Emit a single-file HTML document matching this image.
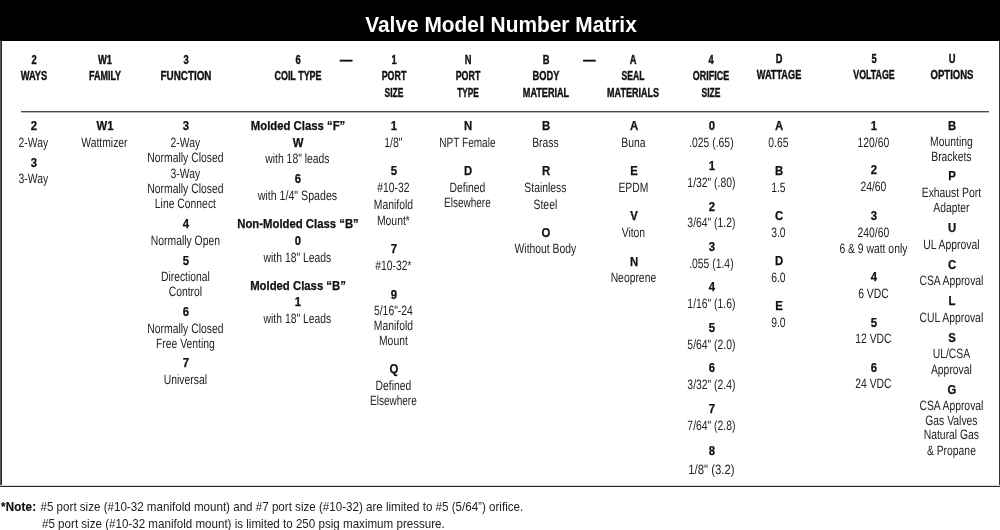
<!DOCTYPE html>
<html lang="en">
<head>
<meta charset="utf-8">
<title>Valve Model Number Matrix</title>
<style>
html,body{margin:0;padding:0;background:#fff;}
body{width:1000px;height:530px;position:relative;overflow:hidden;
 font-family:"Liberation Sans",sans-serif;color:#1a1a1a;}
#frame{position:absolute;left:0;top:0;width:1000px;height:487px;}
#frame i{position:absolute;display:block;}
#bl0{left:0;top:0;width:1px;height:487px;background:#5a5a5a;}
#bl1{left:1px;top:0;width:1px;height:487px;background:#262626;}
#br{left:999px;top:0;width:1px;height:487px;background:#333;}
#bb{left:0;top:486px;width:1000px;height:1px;background:#2a2a2a;}
#bb2{left:0;top:485px;width:1000px;height:1px;background:#d8d8d8;}
#titlebar{position:absolute;left:0;top:0;width:1000px;height:41px;background:#000;}
#title{position:absolute;left:501px;top:5px;white-space:nowrap;color:#fff;font-weight:bold;
 font-size:22.5px;line-height:40px;transform:translateX(-50%) scaleX(0.928);}
#rule{position:absolute;left:21px;top:111px;width:968px;height:2px;
 background:linear-gradient(#4a4a4a 0,#4a4a4a 50%,#b8b8b8 50%,#b8b8b8 100%);}
.t{position:absolute;white-space:nowrap;line-height:16px;transform-origin:50% 50%;}
.r{font-size:13.5px;transform:translateX(calc(-50% - 0.6px)) rotate(0.03deg) scaleX(0.768);color:#222;}
.b{font-size:12.6px;font-weight:bold;transform:translateX(-50%) scaleX(0.9);color:#111;-webkit-text-stroke:0.25px #111;}
.h{font-size:12.2px;font-weight:bold;transform:translateX(-50%) scaleX(0.765);color:#111;-webkit-text-stroke:0.4px #111;}
.h.d{transform:translateX(-50%) scaleX(1);-webkit-text-stroke:0.6px #111;}
.n{position:absolute;white-space:nowrap;line-height:16px;font-size:13.3px;transform-origin:0 50%;transform:scaleX(0.872);color:#222;margin:0;}
.n span{margin-left:4.94px;}
.n b{color:#111;letter-spacing:0.2px;-webkit-text-stroke:0.2px #111;}
</style>
</head>
<body>
<div id="frame"><i id="bl0"></i><i id="bl1"></i><i id="br"></i><i id="bb2"></i><i id="bb"></i></div>
<div id="titlebar"><div id="title">Valve Model Number Matrix</div></div>
<div id="rule"></div>

<!-- column headings -->
<div class="t h" style="left:34px;top:52px;">2</div>
<div class="t h" style="left:34px;top:68px;transform:translateX(-50%) scaleX(0.765);">WAYS</div>
<div class="t h" style="left:105px;top:52px;">W1</div>
<div class="t h" style="left:105px;top:68px;transform:translateX(-50%) scaleX(0.737);">FAMILY</div>
<div class="t h" style="left:185.5px;top:52px;">3</div>
<div class="t h" style="left:185.5px;top:68px;transform:translateX(-50%) scaleX(0.808);">FUNCTION</div>
<div class="t h" style="left:297.5px;top:52px;">6</div>
<div class="t h" style="left:297.5px;top:68px;transform:translateX(-50%) scaleX(0.735);">COIL TYPE</div>
<div class="t h d" style="left:346px;top:52px;">—</div>
<div class="t h" style="left:394px;top:52px;">1</div>
<div class="t h" style="left:394px;top:68px;transform:translateX(-50%) scaleX(0.727);">PORT</div>
<div class="t h" style="left:394px;top:85px;transform:translateX(-50%) scaleX(0.696);">SIZE</div>
<div class="t h" style="left:467.5px;top:52px;">N</div>
<div class="t h" style="left:467.5px;top:68px;transform:translateX(-50%) scaleX(0.727);">PORT</div>
<div class="t h" style="left:467.5px;top:85px;transform:translateX(-50%) scaleX(0.678);">TYPE</div>
<div class="t h" style="left:546px;top:52px;">B</div>
<div class="t h" style="left:546px;top:68px;transform:translateX(-50%) scaleX(0.762);">BODY</div>
<div class="t h" style="left:546px;top:85px;transform:translateX(-50%) scaleX(0.747);">MATERIAL</div>
<div class="t h d" style="left:589.4px;top:52px;">—</div>
<div class="t h" style="left:633.4px;top:52px;">A</div>
<div class="t h" style="left:633.4px;top:68px;transform:translateX(-50%) scaleX(0.703);">SEAL</div>
<div class="t h" style="left:633.4px;top:85px;transform:translateX(-50%) scaleX(0.739);">MATERIALS</div>
<div class="t h" style="left:711px;top:52px;">4</div>
<div class="t h" style="left:711px;top:68px;transform:translateX(-50%) scaleX(0.735);">ORIFICE</div>
<div class="t h" style="left:711px;top:85px;transform:translateX(-50%) scaleX(0.696);">SIZE</div>
<div class="t h" style="left:778.75px;top:51px;">D</div>
<div class="t h" style="left:778.75px;top:67px;transform:translateX(-50%) scaleX(0.754);">WATTAGE</div>
<div class="t h" style="left:873.5px;top:51px;">5</div>
<div class="t h" style="left:873.5px;top:67px;transform:translateX(-50%) scaleX(0.728);">VOLTAGE</div>
<div class="t h" style="left:951.75px;top:51px;">U</div>
<div class="t h" style="left:951.75px;top:67px;transform:translateX(-50%) scaleX(0.781);">OPTIONS</div>
<!-- column values -->
<div class="t b" style="left:34px;top:118px;">2</div>
<div class="t r" style="left:34px;top:135px;">2-Way</div>
<div class="t b" style="left:34px;top:155px;">3</div>
<div class="t r" style="left:34px;top:171px;">3-Way</div>
<div class="t b" style="left:105px;top:118px;">W1</div>
<div class="t r" style="left:105px;top:135px;">Wattmizer</div>
<div class="t b" style="left:185.5px;top:118px;">3</div>
<div class="t r" style="left:185.5px;top:135px;">2-Way</div>
<div class="t r" style="left:185.5px;top:150px;">Normally Closed</div>
<div class="t r" style="left:185.5px;top:166px;">3-Way</div>
<div class="t r" style="left:185.5px;top:181px;">Normally Closed</div>
<div class="t r" style="left:185.5px;top:196px;">Line Connect</div>
<div class="t b" style="left:185.5px;top:216px;">4</div>
<div class="t r" style="left:185.5px;top:233px;">Normally Open</div>
<div class="t b" style="left:185.5px;top:253px;">5</div>
<div class="t r" style="left:185.5px;top:269px;">Directional</div>
<div class="t r" style="left:185.5px;top:284px;">Control</div>
<div class="t b" style="left:185.5px;top:304px;">6</div>
<div class="t r" style="left:185.5px;top:321px;">Normally Closed</div>
<div class="t r" style="left:185.5px;top:336px;">Free Venting</div>
<div class="t b" style="left:185.5px;top:355px;">7</div>
<div class="t r" style="left:185.5px;top:372px;">Universal</div>
<div class="t b" style="left:297.5px;top:118px;">Molded Class “F”</div>
<div class="t b" style="left:297.5px;top:135px;">W</div>
<div class="t r" style="left:297.5px;top:151px;">with 18" leads</div>
<div class="t b" style="left:297.5px;top:171px;">6</div>
<div class="t r" style="left:297.5px;top:188px;transform:translateX(calc(-50% - 0.6px)) rotate(0.03deg) scaleX(0.788);">with 1/4" Spades</div>
<div class="t b" style="left:297.5px;top:216px;">Non-Molded Class “B”</div>
<div class="t b" style="left:297.5px;top:233px;">0</div>
<div class="t r" style="left:297.5px;top:250px;">with 18" Leads</div>
<div class="t b" style="left:297.5px;top:278px;">Molded Class “B”</div>
<div class="t b" style="left:297.5px;top:294px;">1</div>
<div class="t r" style="left:297.5px;top:311px;">with 18" Leads</div>
<div class="t b" style="left:394px;top:118px;">1</div>
<div class="t r" style="left:394px;top:135px;">1/8"</div>
<div class="t b" style="left:394px;top:163px;">5</div>
<div class="t r" style="left:394px;top:180px;">#10-32</div>
<div class="t r" style="left:394px;top:197px;">Manifold</div>
<div class="t r" style="left:394px;top:213px;">Mount*</div>
<div class="t b" style="left:394px;top:241px;">7</div>
<div class="t r" style="left:394px;top:258px;">#10-32*</div>
<div class="t b" style="left:394px;top:287px;">9</div>
<div class="t r" style="left:394px;top:303px;">5/16"-24</div>
<div class="t r" style="left:394px;top:318px;">Manifold</div>
<div class="t r" style="left:394px;top:333px;">Mount</div>
<div class="t b" style="left:394px;top:361px;">Q</div>
<div class="t r" style="left:394px;top:378px;">Defined</div>
<div class="t r" style="left:394px;top:393px;transform:translateX(calc(-50% - 0.6px)) rotate(0.03deg) scaleX(0.741);">Elsewhere</div>
<div class="t b" style="left:467.5px;top:118px;">N</div>
<div class="t r" style="left:467.5px;top:135px;transform:translateX(calc(-50% - 0.6px)) rotate(0.03deg) scaleX(0.745);">NPT Female</div>
<div class="t b" style="left:467.5px;top:163px;">D</div>
<div class="t r" style="left:467.5px;top:180px;">Defined</div>
<div class="t r" style="left:467.5px;top:195px;transform:translateX(calc(-50% - 0.6px)) rotate(0.03deg) scaleX(0.741);">Elsewhere</div>
<div class="t b" style="left:546px;top:118px;">B</div>
<div class="t r" style="left:546px;top:135px;">Brass</div>
<div class="t b" style="left:546px;top:163px;">R</div>
<div class="t r" style="left:546px;top:180px;">Stainless</div>
<div class="t r" style="left:546px;top:197px;">Steel</div>
<div class="t b" style="left:546px;top:225px;">O</div>
<div class="t r" style="left:546px;top:241px;">Without Body</div>
<div class="t b" style="left:633.5px;top:118px;">A</div>
<div class="t r" style="left:633.5px;top:135px;">Buna</div>
<div class="t b" style="left:633.5px;top:163px;">E</div>
<div class="t r" style="left:633.5px;top:180px;">EPDM</div>
<div class="t b" style="left:633.5px;top:208px;">V</div>
<div class="t r" style="left:633.5px;top:225px;">Viton</div>
<div class="t b" style="left:633.5px;top:254px;">N</div>
<div class="t r" style="left:633.5px;top:270px;">Neoprene</div>
<div class="t b" style="left:711.5px;top:118px;">0</div>
<div class="t r" style="left:711.5px;top:135px;">.025 (.65)</div>
<div class="t b" style="left:711.5px;top:158px;">1</div>
<div class="t r" style="left:711.5px;top:175px;">1/32" (.80)</div>
<div class="t b" style="left:711.5px;top:199px;">2</div>
<div class="t r" style="left:711.5px;top:215px;">3/64" (1.2)</div>
<div class="t b" style="left:711.5px;top:239px;">3</div>
<div class="t r" style="left:711.5px;top:256px;">.055 (1.4)</div>
<div class="t b" style="left:711.5px;top:279px;">4</div>
<div class="t r" style="left:711.5px;top:296px;">1/16" (1.6)</div>
<div class="t b" style="left:711.5px;top:320px;">5</div>
<div class="t r" style="left:711.5px;top:337px;">5/64" (2.0)</div>
<div class="t b" style="left:711.5px;top:360px;">6</div>
<div class="t r" style="left:711.5px;top:377px;">3/32" (2.4)</div>
<div class="t b" style="left:711.5px;top:401px;">7</div>
<div class="t r" style="left:711.5px;top:418px;">7/64" (2.8)</div>
<div class="t b" style="left:711.5px;top:443px;">8</div>
<div class="t r" style="left:711.5px;top:462px;transform:translateX(calc(-50% - 0.6px)) rotate(0.03deg) scaleX(0.845);">1/8" (3.2)</div>
<div class="t b" style="left:778.5px;top:118px;">A</div>
<div class="t r" style="left:778.5px;top:135px;">0.65</div>
<div class="t b" style="left:778.5px;top:163px;">B</div>
<div class="t r" style="left:778.5px;top:180px;">1.5</div>
<div class="t b" style="left:778.5px;top:208px;">C</div>
<div class="t r" style="left:778.5px;top:225px;">3.0</div>
<div class="t b" style="left:778.5px;top:253px;">D</div>
<div class="t r" style="left:778.5px;top:270px;">6.0</div>
<div class="t b" style="left:778.5px;top:298px;">E</div>
<div class="t r" style="left:778.5px;top:315px;">9.0</div>
<div class="t b" style="left:873.5px;top:118px;">1</div>
<div class="t r" style="left:873.5px;top:135px;">120/60</div>
<div class="t b" style="left:873.5px;top:162px;">2</div>
<div class="t r" style="left:873.5px;top:179px;">24/60</div>
<div class="t b" style="left:873.5px;top:208px;">3</div>
<div class="t r" style="left:873.5px;top:225px;">240/60</div>
<div class="t r" style="left:873.5px;top:241px;">6 &amp; 9 watt only</div>
<div class="t b" style="left:873.5px;top:269px;">4</div>
<div class="t r" style="left:873.5px;top:286px;">6 VDC</div>
<div class="t b" style="left:873.5px;top:315px;">5</div>
<div class="t r" style="left:873.5px;top:331px;">12 VDC</div>
<div class="t b" style="left:873.5px;top:360px;">6</div>
<div class="t r" style="left:873.5px;top:376px;">24 VDC</div>
<div class="t b" style="left:951.5px;top:118px;">B</div>
<div class="t r" style="left:951.5px;top:134px;">Mounting</div>
<div class="t r" style="left:951.5px;top:149px;">Brackets</div>
<div class="t b" style="left:951.5px;top:168px;">P</div>
<div class="t r" style="left:951.5px;top:185px;">Exhaust Port</div>
<div class="t r" style="left:951.5px;top:200px;">Adapter</div>
<div class="t b" style="left:951.5px;top:220px;">U</div>
<div class="t r" style="left:951.5px;top:237px;">UL Approval</div>
<div class="t b" style="left:951.5px;top:257px;">C</div>
<div class="t r" style="left:951.5px;top:273px;">CSA Approval</div>
<div class="t b" style="left:951.5px;top:293px;">L</div>
<div class="t r" style="left:951.5px;top:310px;">CUL Approval</div>
<div class="t b" style="left:951.5px;top:330px;">S</div>
<div class="t r" style="left:951.5px;top:346px;">UL/CSA</div>
<div class="t r" style="left:951.5px;top:362px;">Approval</div>
<div class="t b" style="left:951.5px;top:382px;">G</div>
<div class="t r" style="left:951.5px;top:398px;">CSA Approval</div>
<div class="t r" style="left:951.5px;top:413px;">Gas Valves</div>
<div class="t r" style="left:951.5px;top:427px;">Natural Gas</div>
<div class="t r" style="left:951.5px;top:443px;">&amp; Propane</div>
<!-- footnote -->
<div class="n" style="left:1px;top:499px;"><b>*Note:</b><span>#5 port size (#10-32 manifold mount) and #7 port size (#10-32) are limited to #5 (5/64”) orifice.</span></div>
<div class="n" style="left:41.5px;top:516px;">#5 port size (#10-32 manifold mount) is limited to 250 psig maximum pressure.</div>
</body>
</html>
